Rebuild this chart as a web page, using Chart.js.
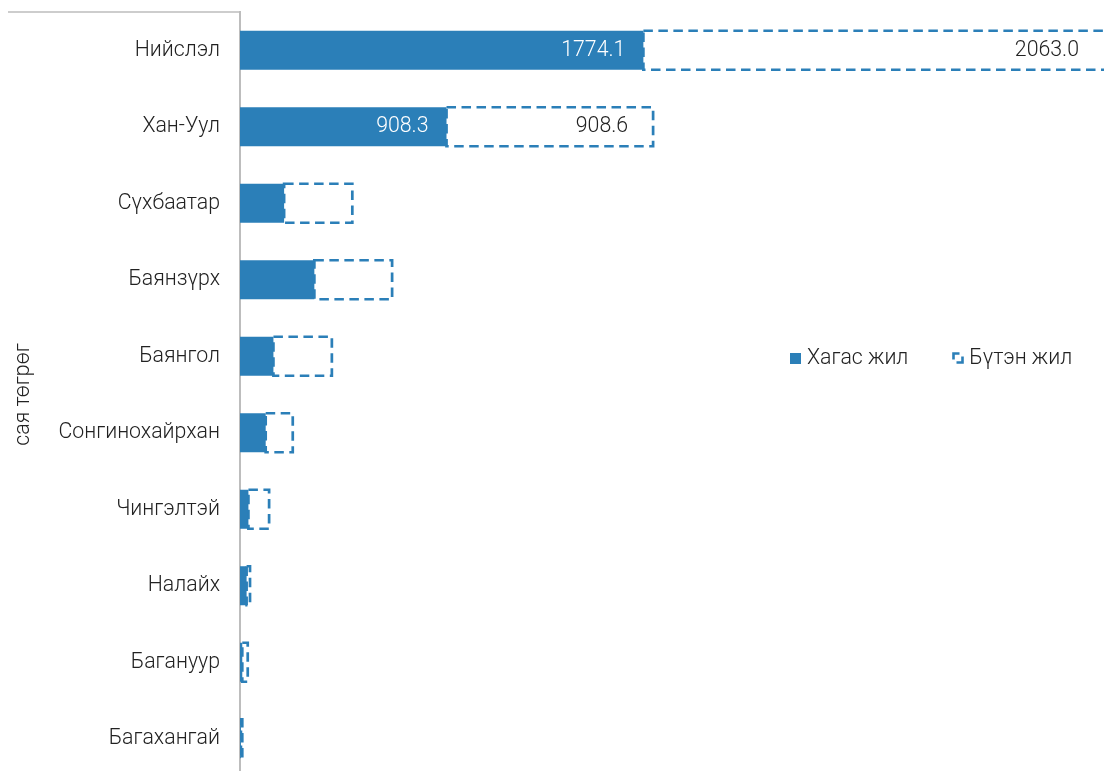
<!DOCTYPE html>
<html>
<head>
<meta charset="utf-8">
<script src="https://cdn.jsdelivr.net/npm/chart.js@4.4.0/dist/chart.umd.min.js"></script>
<style>
  html, body { margin:0; padding:0; background:#fff; overflow:hidden; }
  #wrap { position:relative; width:1104px; height:777px; }
  #legend { position:absolute; left:790px; top:344px; font:300 21.3px Roboto, sans-serif; color:#222; white-space:nowrap; }
  #legend span.box { display:inline-block; width:11px; height:11px; vertical-align:0px; margin-right:6px; }
  #legend svg { vertical-align:0px; margin-right:5px; }
</style>
</head>
<body>
<div id="wrap">
  <canvas id="chart" width="1104" height="777"></canvas>
  <div id="legend"><span class="box" style="background:#2b7fb8"></span>Хагас жил<span style="display:inline-block;width:44px"></span><svg width="12" height="12"><rect x="1.5" y="1.5" width="9" height="9" fill="none" stroke="#2b7fb8" stroke-width="2.6" stroke-dasharray="12 6" stroke-dashoffset="6"/></svg>Бүтэн жил</div>
</div>
<script>
const categories = ['Нийслэл','Хан-Уул','Сүхбаатар','Баянзүрх','Баянгол','Сонгинохайрхан','Чингэлтэй','Налайх','Багануур','Багахангай'];
const halfYear = [1774.1, 908.3, 194, 327, 147, 113, 37, 29, 10, 4];
const fullYear = [2063.0, 908.6, 300, 342, 257, 119, 91, 15, 24, 6];
const labelled = [0, 1];

const blue = '#2b7fb8';

// dashed outline + value labels
const extras = {
  id: 'extras',
  afterDatasetsDraw(chart) {
    const ctx = chart.ctx;
    const area = chart.chartArea;
    const meta0 = chart.getDatasetMeta(0);
    const meta1 = chart.getDatasetMeta(1);
    ctx.save();
    ctx.beginPath();
    ctx.rect(area.left, area.top - 3, area.right - area.left + 4, area.bottom - area.top + 6);
    ctx.clip();
    ctx.strokeStyle = blue;
    ctx.lineWidth = 2.7;
    ctx.setLineDash([9.5, 5.5]);
    meta1.data.forEach(bar => {
      const p = bar.getProps(['x','y','base','height'], true);
      const top = p.y - p.height / 2;
      ctx.strokeRect(p.base, top, p.x - p.base, p.height);
    });
    ctx.restore();

    ctx.save();
    ctx.font = '300 21.3px Roboto, sans-serif';
    ctx.textAlign = 'right';
    ctx.textBaseline = 'middle';
    labelled.forEach(i => {
      const a = meta0.data[i].getProps(['x','y'], true);
      ctx.fillStyle = '#fff';
      ctx.fillText(halfYear[i].toFixed(1), a.x - 18, a.y);
      const b = meta1.data[i].getProps(['x','y'], true);
      ctx.fillStyle = '#222';
      ctx.fillText(fullYear[i].toFixed(1), Math.min(b.x, area.right) - 25, b.y);
    });
    ctx.restore();

    // frame line on top of labels
    ctx.save();
    ctx.strokeStyle = '#bdbdbd';
    ctx.lineWidth = 1.5;
    ctx.beginPath();
    ctx.moveTo(8, area.top);
    ctx.lineTo(area.left, area.top);
    ctx.stroke();
    ctx.restore();
  }
};

new Chart(document.querySelector('#chart').getContext('2d'), {
  type: 'bar',
  data: {
    labels: categories,
    datasets: [
      { label: 'Хагас жил', data: halfYear, backgroundColor: blue, borderWidth: 0 },
      { label: 'Бүтэн жил', data: fullYear, backgroundColor: 'rgba(0,0,0,0)', borderWidth: 0 }
    ]
  },
  options: {
    indexAxis: 'y',
    responsive: false,
    animation: false,
    layout: { padding: { top: 12, right: 0, bottom: 0, left: 0 } },
    categoryPercentage: 1,
    barPercentage: 0.51,
    plugins: { legend: { display: false }, tooltip: { enabled: false } },
    scales: {
      x: { display: false, stacked: true, min: 0, max: 3800 },
      y: {
        stacked: true,
        grid: { display: false, drawTicks: false },
        border: { display: true, color: '#bdbdbd', width: 2 },
        ticks: { color: '#222', font: { family: 'Roboto', size: 21.3, weight: 300 }, padding: 20 },
        title: { display: true, text: 'сая төгрөг', color: '#222', font: { family: 'Roboto', size: 21.3, weight: 300 }, padding: { top: 11, bottom: 0 } },
        afterFit(scale) {
          scale.width = 240;
          scale.paddingTop = 0;
          scale.paddingBottom = 0;
        }
      }
    }
  },
  plugins: [extras]
});
</script>
</body>
</html>
